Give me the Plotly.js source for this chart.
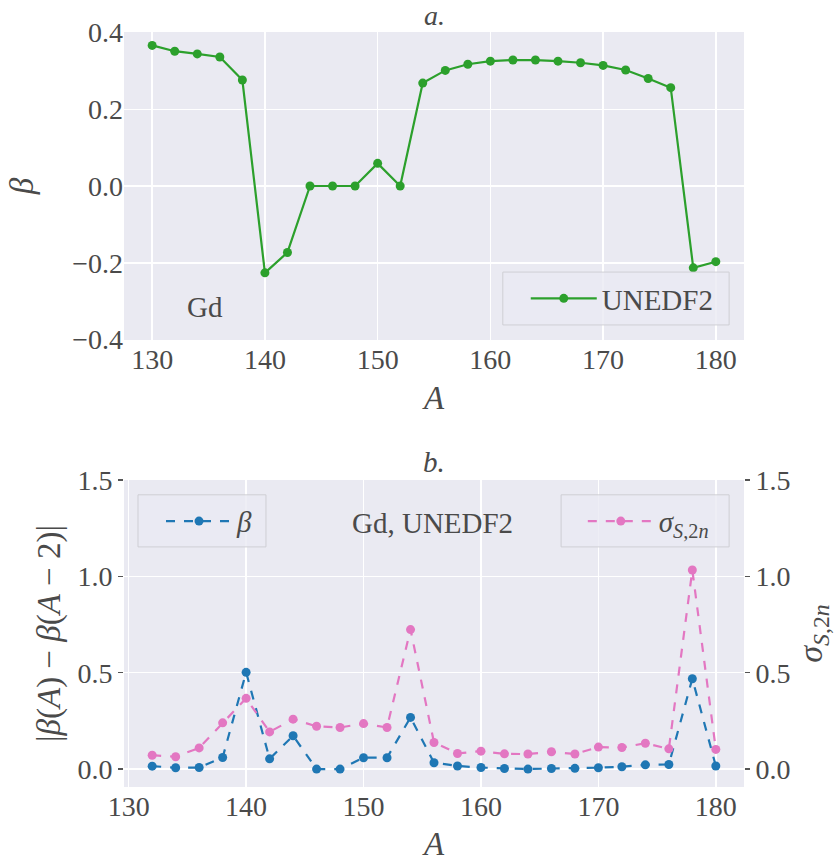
<!DOCTYPE html>
<html>
<head>
<meta charset="utf-8">
<script src="https://cdn.plot.ly/plotly-3.0.1.min.js"></script>
<style>
  html, body { margin: 0; padding: 0; background: #ffffff; }
  #chart { width: 834px; height: 865px; }
</style>
</head>
<body>
<div id="chart"></div>
<script>
// Gd isotopes, UNEDF2: quadrupole deformation and its jumps
const massNumbers = [130, 132, 134, 136, 138, 140, 142, 144, 146, 148, 150, 152, 154,
                     156, 158, 160, 162, 164, 166, 168, 170, 172, 174, 176, 178, 180];
const betaValues = [0.366, 0.351, 0.344, 0.336, 0.276, -0.226, -0.173, 0.0, 0.0, 0.0, 0.059, 0.0, 0.268,
                    0.301, 0.317, 0.325, 0.328, 0.328, 0.325, 0.321, 0.314, 0.302, 0.280, 0.256, -0.213, -0.197];

const diffMass = [132, 134, 136, 138, 140, 142, 144, 146, 148, 150, 152, 154,
                  156, 158, 160, 162, 164, 166, 168, 170, 172, 174, 176, 178, 180];
const betaJump = [0.015, 0.007, 0.008, 0.060, 0.502, 0.053, 0.173, 0.0, 0.0, 0.059, 0.059, 0.268,
                  0.033, 0.016, 0.008, 0.003, 0.0, 0.003, 0.004, 0.007, 0.012, 0.022, 0.024, 0.469, 0.016];
const sigmaS2n = [0.072, 0.064, 0.110, 0.240, 0.367, 0.193, 0.259, 0.222, 0.216, 0.236, 0.216, 0.724,
                  0.138, 0.081, 0.093, 0.079, 0.078, 0.090, 0.078, 0.114, 0.112, 0.134, 0.105, 1.033, 0.102];

const topTicks = [-0.4, -0.2, 0.0, 0.2, 0.4];
const topTickText = ['\u22120.4', '\u22120.2', '0.0', '0.2', '0.4'];
const botTicks = [0.0, 0.5, 1.0, 1.5];
const botTickText = ['0.0', '0.5', '1.0', '1.5'];
const xTicks = [130, 140, 150, 160, 170, 180];

const GREEN = '#2ca02c';
const BLUE = '#1f77b4';
const PINK = '#e377c2';
const TEXT = '#4a4a4a';
const FONT = '"Liberation Serif", "DejaVu Serif", serif';

const traces = [
  {
    x: massNumbers, y: betaValues, xaxis: 'x', yaxis: 'y',
    type: 'scatter', mode: 'lines+markers', name: 'UNEDF2',
    line: {color: GREEN, width: 2.2},
    marker: {color: GREEN, size: 9},
    legend: 'legend', showlegend: true
  },
  {
    x: diffMass, y: betaJump, xaxis: 'x2', yaxis: 'y2',
    type: 'scatter', mode: 'lines+markers', name: '<i>\u03b2</i>',
    line: {color: BLUE, width: 2.2, dash: 'dash'},
    marker: {color: BLUE, size: 9},
    legend: 'legend2', showlegend: true
  },
  {
    x: diffMass, y: sigmaS2n, xaxis: 'x2', yaxis: 'y3',
    type: 'scatter', mode: 'lines+markers', name: '<i>\u03c3</i><sub><i>S</i>,2<i>n</i></sub>',
    line: {color: PINK, width: 2.2, dash: 'dash'},
    marker: {color: PINK, size: 9},
    legend: 'legend3', showlegend: true
  }
];

const gridAxis = {
  showgrid: true, gridcolor: '#ffffff', gridwidth: 1.4,
  zeroline: false, showline: false, automargin: false,
  tickfont: {family: FONT, size: 28, color: TEXT}
};

// legends: transparent, the frames are drawn as shapes underneath
const legendStyle = {
  bgcolor: 'rgba(0,0,0,0)', borderwidth: 0, itemwidth: 66,
  yanchor: 'middle', xanchor: 'left',
  font: {family: FONT, size: 29, color: TEXT}
};

const frameStyle = {
  type: 'rect', xref: 'paper', yref: 'paper', layer: 'above',
  fillcolor: 'rgba(234,234,242,0.8)',
  line: {color: 'rgba(204,204,210,0.9)', width: 1}
};

const layout = {
  width: 834, height: 865,
  margin: {l: 124, r: 90, t: 32, b: 78},
  paper_bgcolor: '#ffffff',
  plot_bgcolor: '#eaeaf2',
  font: {family: FONT, color: TEXT},
  showlegend: true,
  xaxis: Object.assign({}, gridAxis, {
    domain: [0, 1], anchor: 'y', range: [127.5, 182.5],
    tickvals: xTicks, ticks: '',
    title: {text: '<i>A</i>', font: {family: FONT, size: 33, color: TEXT}, standoff: 11}
  }),
  yaxis: Object.assign({}, gridAxis, {
    domain: [0.592, 1], anchor: 'x', range: [-0.401, 0.401],
    tickvals: topTicks, ticktext: topTickText, ticks: '',
    title: {text: '<i>\u03b2</i>', font: {family: FONT, size: 33, color: TEXT}, standoff: 28}
  }),
  xaxis2: Object.assign({}, gridAxis, {
    domain: [0, 1], anchor: 'y2', range: [129.6, 182.4],
    tickvals: xTicks, ticks: '',
    title: {text: '<i>A</i>', font: {family: FONT, size: 33, color: TEXT}, standoff: 10}
  }),
  yaxis2: Object.assign({}, gridAxis, {
    domain: [0, 0.4066], anchor: 'x2', range: [-0.093, 1.5],
    tickvals: botTicks, ticktext: botTickText,
    ticks: 'outside', ticklen: 5, tickwidth: 1.2, tickcolor: '#555555',
    title: {text: '|<i>\u03b2</i>(<i>A</i>) \u2212 <i>\u03b2</i>(<i>A</i> \u2212 2)|',
            font: {family: FONT, size: 33, color: TEXT}, standoff: 6}
  }),
  yaxis3: Object.assign({}, gridAxis, {
    overlaying: 'y2', side: 'right', anchor: 'x2', range: [-0.093, 1.5],
    showgrid: false,
    tickvals: botTicks, ticktext: botTickText,
    ticks: 'outside', ticklen: 5, tickwidth: 1.2, tickcolor: '#555555',
    title: {text: '<i>\u03c3</i><sub><i>S</i>,2<i>n</i></sub>',
            font: {family: FONT, size: 34, color: TEXT}, standoff: 10}
  }),
  legend: Object.assign({}, legendStyle, {x: 0.648, y: 0.647}),
  legend2: Object.assign({}, legendStyle, {x: 0.0597, y: 0.352}),
  legend3: Object.assign({}, legendStyle, {x: 0.740, y: 0.352}),
  shapes: [
    Object.assign({}, frameStyle, {x0: 0.611, x1: 0.976, y0: 0.612, y1: 0.682}),
    Object.assign({}, frameStyle, {x0: 0.0226, x1: 0.229, y0: 0.318, y1: 0.387}),
    Object.assign({}, frameStyle, {x0: 0.705, x1: 0.976, y0: 0.318, y1: 0.387})
  ],
  annotations: [
    {text: '<i>a.</i>', xref: 'paper', yref: 'paper', x: 0.5, y: 1.0215, yanchor: 'middle',
     showarrow: false, font: {family: FONT, size: 28, color: TEXT}},
    {text: '<i>b.</i>', xref: 'paper', yref: 'paper', x: 0.5, y: 0.4066, yanchor: 'bottom',
     showarrow: false, font: {family: FONT, size: 29, color: TEXT}},
    {text: 'Gd', xref: 'paper', yref: 'paper', x: 0.098, y: 0.636,
     showarrow: false, font: {family: FONT, size: 29, color: TEXT}},
    {text: 'Gd, UNEDF2', xref: 'paper', yref: 'paper', x: 0.498, y: 0.35,
     showarrow: false, font: {family: FONT, size: 29, color: TEXT}}
  ]
};

Plotly.newPlot('chart', traces, layout, {displayModeBar: false, staticPlot: true});
</script>
</body>
</html>
